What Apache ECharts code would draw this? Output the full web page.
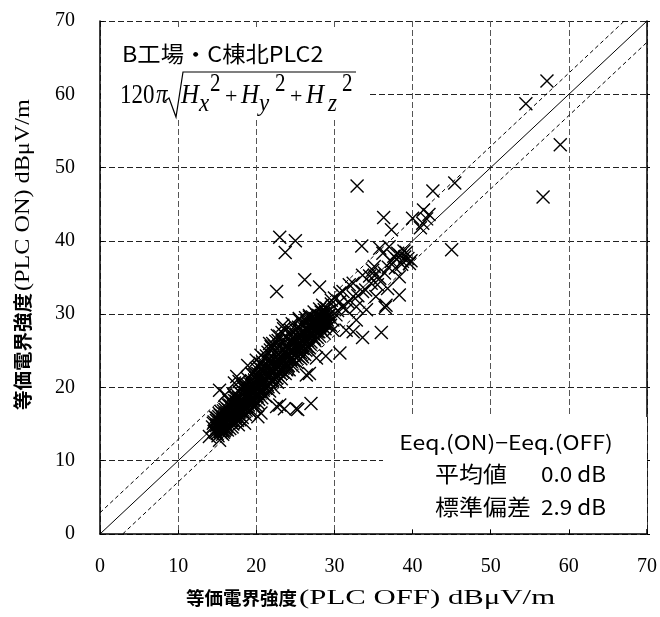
<!DOCTYPE html>
<html><head><meta charset="utf-8">
<script src="https://cdn.jsdelivr.net/npm/echarts@6/dist/echarts.min.js"></script>
<style>html,body{margin:0;padding:0;background:#fff}#c{width:660px;height:617px}</style>
</head><body><div id="c"></div>
<script>
// Measured points: [PLC OFF, PLC ON] in dBμV/m
const coreBand = [
[14.4,14.6],[14.6,15.3],[14.8,13.9],[14.9,14.8],[15.0,15.8],[15.1,13.4],[15.2,14.3],[15.3,16.4],[15.4,15.0],[15.5,13.8],
[15.6,14.6],[15.7,15.7],[15.8,16.8],[15.9,14.1],[16.0,15.2],[16.1,17.3],[16.2,14.7],[16.3,16.0],[16.4,15.5],[16.5,18.2],
[16.6,14.4],[16.7,16.6],[16.8,17.4],[16.9,15.1],[17.0,16.2],[17.1,19.0],[17.2,17.0],[17.3,15.8],[17.4,18.1],[17.5,16.6],
[17.6,17.7],[17.7,14.9],[17.8,19.4],[17.9,16.9],[18.0,18.3],[18.1,17.4],[18.2,15.9],[18.3,20.1],[18.4,18.8],[18.5,17.2],
[18.6,16.3],[18.7,19.5],[18.8,18.0],[18.9,21.2],[19.0,17.6],[19.1,19.1],[19.2,16.7],[19.3,20.4],[19.4,18.5],[19.5,21.8],
[19.6,19.8],[19.7,17.3],[19.8,20.9],[19.9,18.9],[20.0,22.6],[20.1,20.2],[20.2,17.9],[20.3,21.5],[20.4,19.4],[20.5,23.3],
[20.6,20.7],[20.7,18.6],[20.8,22.1],[20.9,19.9],[21.0,24.0],[21.1,21.2],[21.2,18.8],[21.3,22.7],[21.4,20.4],[21.5,24.8],
[21.6,21.8],[21.7,19.5],[21.8,23.3],[21.9,20.9],[22.0,25.4],[22.1,22.4],[22.2,20.0],[22.3,23.8],[22.4,21.5],[22.5,26.3],
[22.6,23.0],[22.7,20.7],[22.8,24.5],[22.9,22.1],[23.0,27.0],[23.1,23.5],[23.2,21.2],[23.3,25.1],[23.4,22.6],[23.5,28.0],
[23.6,24.1],[23.7,21.9],[23.8,25.7],[23.9,23.2],[24.0,26.6],[24.1,24.6],[24.2,22.4],[24.3,27.4],[24.4,23.8],[24.5,25.2],
[24.6,28.7],[24.7,22.9],[24.8,26.1],[24.9,24.4],[25.0,27.9],[25.1,25.5],[25.2,23.4],[25.3,26.8],[25.4,24.9],[25.5,29.2],
[25.6,26.1],[25.7,23.9],[25.8,27.5],[25.9,25.3],[26.0,28.6],[26.1,26.7],[26.2,24.5],[26.3,29.5],[26.4,27.9],[26.5,25.6],
[26.6,28.4],[26.7,26.9],[26.8,29.8],[26.9,28.1],[27.0,26.2],[27.1,29.0],[27.2,27.4],[27.3,28.7],[27.4,30.3],[27.5,27.8],
[27.6,29.3],[27.7,28.2],[27.8,26.8],[27.9,29.8],[28.0,28.6],[28.1,30.7],[28.2,29.1],[28.3,27.9],[28.4,29.6],[28.5,28.3],
[28.6,30.1],[28.7,29.0],[28.8,28.0],[28.9,29.4],[29.0,30.8],[29.2,28.7],[29.4,29.9],[29.6,31.4],
[14.7,14.1],[15.0,14.5],[15.3,15.5],[15.6,16.1],[15.9,15.6],[16.2,16.5],[16.5,15.8],[16.8,16.1],[17.1,17.5],[17.4,16.4],
[17.7,18.6],[18.0,17.1],[18.3,18.0],[18.6,19.3],[18.9,18.4],[19.2,19.6],[19.5,19.0],[19.8,19.4],[20.1,21.0],[20.4,20.5],
[20.7,21.6],[21.0,20.6],[21.3,21.9],[21.6,22.9],[21.9,22.0],[22.2,23.3],[22.5,22.4],[22.8,23.7],[23.1,24.3],[23.4,23.9],
[23.7,24.8],[24.0,25.3],[24.3,24.9],[24.6,25.8],[24.9,26.4],[25.2,25.9],[25.5,26.6],[25.8,26.9],[26.1,27.6],[26.4,26.8],
[26.7,27.7],[27.0,28.5],[27.3,27.3],[27.6,28.8],[27.9,28.9],[28.2,28.4],[28.5,29.5],[28.8,29.9],[29.1,29.2],
[15.4,14.0],[16.0,14.3],[16.7,15.3],[17.3,16.0],[17.9,16.2],[18.5,17.9],[19.1,18.1],[19.7,18.3],[20.3,19.1],[20.9,19.6],
[21.5,20.1],[22.1,20.8],[22.7,21.7],[23.3,22.2],[23.9,22.4],[24.5,23.5],[25.1,24.0],[25.7,24.7],[26.3,25.1],[26.9,25.9],
[27.5,26.4],[28.1,27.0],[28.7,27.4]
];
const coreFill = [
[14.5,15.1],[14.9,15.5],[15.1,14.9],[15.2,16.0],[15.5,14.4],[15.6,15.2],[15.8,13.9],[16.0,16.4],[16.1,15.0],[16.3,14.2],
[16.4,17.0],[16.6,16.3],[16.9,14.6],[17.0,17.8],[17.1,15.4],[17.3,18.6],[17.5,17.3],[17.6,15.5],[17.8,16.7],[17.9,18.0],
[18.1,19.1],[18.2,16.6],[18.4,17.6],[18.5,19.8],[18.7,16.9],[18.8,20.4],[19.0,18.7],[19.1,16.9],[19.3,17.8],[19.4,20.9],
[19.6,18.2],[19.7,20.3],[19.9,17.6],[20.0,19.8],[20.2,21.9],[20.3,18.4],[20.5,19.9],[20.6,22.5],[20.8,19.2],[20.9,21.1],
[21.1,22.9],[21.2,19.9],[21.4,21.4],[21.5,23.7],[21.7,20.7],[21.8,22.4],[22.0,24.2],[22.1,21.0],[22.3,22.6],[22.4,24.9],
[22.6,21.3],[22.7,23.4],[22.9,25.6],[23.0,22.4],[23.2,24.1],[23.3,26.3],[23.5,22.8],[23.6,25.2],[23.8,26.9],[23.9,24.0],
[24.1,23.0],[24.2,25.9],[24.4,27.8],[24.5,24.1],[24.7,26.7],[24.8,23.6],[25.0,25.1],[25.1,27.3],[25.3,24.3],[25.4,28.2],
[25.6,25.5],[25.7,27.0],[25.9,24.2],[26.0,26.3],[26.2,28.0],[26.3,26.0],[26.5,29.0],[26.6,27.1],[26.8,25.4],[26.9,27.4],
[27.1,28.1],[27.2,29.6],[27.4,26.7],[27.5,28.9],[27.7,29.9],[27.8,27.6],[28.0,29.8],[28.1,28.2],[28.3,30.3],[28.4,28.7],
[28.6,29.3],[28.7,30.6],[28.9,28.6],[29.0,29.6],[29.3,30.4],[29.5,28.5],
[14.6,14.0],[14.8,15.9],[15.0,13.7],[15.2,15.2],[15.5,16.7],[15.7,14.2],[16.0,17.0],[16.2,15.9],[16.6,17.6],[16.9,16.8],
[17.2,18.2],[17.6,18.9],[18.0,19.7],[18.4,20.4],[18.8,19.0],[19.3,19.9],[19.8,21.8],[20.3,22.8],[20.8,23.5],[21.3,24.3],
[21.8,25.1],[22.3,25.7],[22.8,26.4],[23.3,27.5]
];
const coreExtra = [
[15.1,15.6],[15.4,16.2],[15.7,13.6],[15.9,16.0],[16.1,14.5],[16.3,17.7],[16.5,16.9],[16.8,15.5],[17.0,15.0],[17.2,16.6],
[17.4,17.7],[17.7,17.3],[17.9,15.6],[18.1,18.4],[18.3,16.9],[18.6,18.6],[18.8,17.4],[19.0,19.9],[19.2,18.3],[19.5,17.9],
[19.7,19.4],[19.9,20.6],[20.1,18.8],[20.4,21.2],[20.6,19.6],[20.8,20.4],[21.0,22.3],[21.3,20.0],[21.5,21.5],[21.7,23.6],
[21.9,21.7],[22.2,22.0],[22.4,23.1],[22.6,24.3],[22.9,23.0],[23.1,21.9],[23.3,23.6],[23.6,23.0],[23.8,24.4],[24.0,22.9],
[24.2,24.2],[24.5,26.3],[24.7,25.0],[25.0,24.6],[25.2,26.5],[25.5,25.2],[25.7,26.4],[26.0,25.7],[26.2,27.3],[26.5,26.4],
[26.7,28.6],[27.0,27.2],[27.2,28.0],[27.5,29.4],[27.8,28.3],[28.0,27.6],[28.3,29.0],[28.6,28.8],[28.9,30.2],[29.2,29.8]
];
const bandEdges = [
[16.0,19.0],[17.2,20.6],[17.5,21.5],[18.9,23.0],[19.4,21.9],[20.0,23.7],[20.6,24.4],[21.7,26.0],[21.9,25.6],[22.7,27.1],
[23.4,28.5],[25.5,29.4],[26.8,29.6],[28.5,31.2],[15.3,19.6],[17.8,20.8],[22.1,26.0],
[14.0,13.3],[15.3,12.8],[17.5,15.6],[18.5,15.1],[20.2,16.0],[20.6,16.5],[22.6,17.4],[23.0,17.6],[23.6,17.1],[25.1,17.1],
[25.3,17.0],[27.0,17.8],[26.4,21.7],[26.8,21.9],[27.7,24.0],[28.9,24.3],[30.7,24.7]
];
const upperRange = [
[29.8,27.8],[31.5,27.8],[32.4,27.6],[33.6,26.8],[36.0,27.5],[32.8,29.2],[34.1,30.6],[35.3,32.4],[36.8,33.5],[38.3,35.1],
[39.6,36.9],[36.5,30.9],[36.6,31.2],[38.3,32.6],[30.0,32.2],[28.1,33.7],[26.2,34.7],[22.6,33.1],
[29.6,31.9],[31.1,33.1],[32.4,34.2],[33.6,35.3],[35.1,36.5],[36.2,38.3],[37.0,39.2],[30.7,31.7],[32.4,32.4],[33.6,33.1],
[32.8,31.0],[34.7,34.2],[35.8,34.9],[35.1,35.3],[31.5,30.6],[30.2,29.9],[29.8,29.2],[30.4,30.5],[31.0,31.0],[31.8,31.6],
[33.0,32.5],[34.0,33.3],[34.5,35.2],[35.5,34.0],[36.4,35.6],[36.9,36.4],[37.3,37.2],[37.8,36.3],[38.0,37.5],[38.4,38.0],
[38.7,37.2],[39.0,37.8],[39.2,38.4],[38.6,36.8],[39.4,37.6],[39.8,37.3],[38.9,38.6],[38.1,38.3],[37.6,37.9],
[31.9,34.0],[30.7,32.9],[34.9,36.0],
[41.3,42.4],[41.4,44.2],[41.8,43.0],[42.1,43.6],[41.0,41.8],[40.0,43.1],[36.3,43.2],[37.3,41.5],[33.5,39.3],[35.8,39.0],
[45.0,38.8],[42.6,46.8],[45.4,47.9],[32.9,47.5],[23.0,40.5],[25.0,40.0],[23.7,38.4],
[54.5,58.7],[57.2,61.8],[58.9,53.1],[56.7,46.0]
];
const axisRange = [0, 70];
const axisStep = 10;
const stdBand = 2.9;
const siteLabel = 'B工場・C棟北PLC2';
const diffLabel = 'Eeq.(ON)−Eeq.(OFF)';
const statNames = ['平均値', '標準偏差'];
const statValues = ['0.0 dB', '2.9 dB'];
const xTitleParts = ['等価電界強度', '(PLC OFF) dBμV/m'];
const yTitleParts = ['等価電界強度', '(PLC ON) dBμV/m'];

const points = coreBand.concat(coreFill, coreExtra, bandEdges, upperRange);
const lo = axisRange[0], hi = axisRange[1];

const CJK = '"Noto Sans CJK JP"';
const SERIF = '"Liberation Serif"';

function txt(text, x, y, opts) {
  const o = opts || {};
  return {type: 'text', x: x, y: y, z: 10, scaleX: o.sx || 1, scaleY: o.sy || 1, rotation: o.rot || 0,
    style: {text: text, fontFamily: o.family || CJK, fontSize: o.size || 20, fontStyle: o.italic ? 'italic' : 'normal',
      fontWeight: o.weight || 'normal', fill: '#000',
      align: o.align || 'left', verticalAlign: 'middle', textAlign: o.align || 'left', textVerticalAlign: 'middle'}};
}

const formula = [
  txt('120', 120, 96, {family: SERIF, size: 23, sy: 1.2}),
  txt('π', 156, 96, {family: SERIF, size: 23, sy: 1.2, italic: true}),
  txt('H', 181, 96, {family: SERIF, size: 25, sy: 1.1, italic: true}),
  txt('x', 199, 104, {family: SERIF, size: 23, sy: 1.1, italic: true}),
  txt('2', 210, 85, {family: SERIF, size: 21, sy: 1.15}),
  txt('+', 225, 97, {family: SERIF, size: 22}),
  txt('H', 241, 96, {family: SERIF, size: 25, sy: 1.1, italic: true}),
  txt('y', 259, 104, {family: SERIF, size: 23, sy: 1.1, italic: true}),
  txt('2', 275, 85, {family: SERIF, size: 21, sy: 1.15}),
  txt('+', 290, 97, {family: SERIF, size: 22}),
  txt('H', 306, 96, {family: SERIF, size: 25, sy: 1.1, italic: true}),
  txt('z', 328, 104, {family: SERIF, size: 23, sy: 1.1, italic: true}),
  txt('2', 342, 85, {family: SERIF, size: 21, sy: 1.15})
];

const chart = echarts.init(document.getElementById('c'), null, {renderer: 'canvas'});

const option = {
  animation: false,
  backgroundColor: '#fff',
  grid: {left: 100, right: 12, top: 21, bottom: 83, containLabel: false},
  xAxis: {
    type: 'value', min: lo, max: hi, interval: axisStep,
    axisLine: {show: true, onZero: false, lineStyle: {color: '#000', width: 1.5}},
    axisTick: {show: true, inside: true, length: 4, lineStyle: {color: '#000'}},
    axisLabel: {color: '#000', fontFamily: SERIF, fontSize: 20, margin: 23},
    splitLine: {show: true, lineStyle: {color: '#555', type: [6, 3], width: 1}}
  },
  yAxis: [{
    type: 'value', min: lo, max: hi, interval: axisStep,
    axisLine: {show: true, onZero: false, lineStyle: {color: '#000', width: 1.5}},
    axisTick: {show: true, inside: true, length: 4, lineStyle: {color: '#000'}},
    axisLabel: {color: '#000', fontFamily: SERIF, fontSize: 20, margin: 25},
    splitLine: {show: true, lineStyle: {color: '#222', type: [6, 3], width: 1}}
  }, {
    type: 'value', min: lo, max: hi, interval: axisStep, position: 'right',
    axisLine: {show: true, onZero: false, lineStyle: {color: '#000', width: 1.5}},
    axisTick: {show: true, inside: false, length: 3, lineStyle: {color: '#000'}},
    axisLabel: {show: false},
    splitLine: {show: false}
  }],
  series: [
    {
      type: 'scatter', data: points, symbol: 'path://M0,0L10,10M10,0L0,10', symbolSize: 13,
      itemStyle: {color: 'rgba(0,0,0,0)', borderColor: '#000', borderWidth: 1.4, opacity: 1},
      emphasis: {disabled: true}, z: 2
    },
    {type: 'line', data: [[lo, lo], [hi, hi]], showSymbol: false, symbol: 'none',
      lineStyle: {color: '#000', width: 1}, z: 3},
    {type: 'line', data: [[lo, lo + stdBand], [hi - stdBand, hi]], showSymbol: false, symbol: 'none',
      lineStyle: {color: '#000', width: 1, type: [4, 3]}, z: 3},
    {type: 'line', data: [[lo + stdBand, lo], [hi, hi - stdBand]], showSymbol: false, symbol: 'none',
      lineStyle: {color: '#000', width: 1, type: [4, 3]}, z: 3}
  ],
  graphic: {elements: [
    {type: 'rect', shape: {x: 101, y: 27, width: 267, height: 91}, style: {fill: '#fff'}, z: 5},
    {type: 'rect', shape: {x: 383, y: 417, width: 264, height: 112}, style: {fill: '#fff'}, z: 5},
    txt(siteLabel, 122, 54, {size: 22, sx: 1.06}),
    {type: 'polyline', z: 10, shape: {points: [[165, 101], [169, 98], [176, 117], [183, 72], [356, 72]]},
      style: {stroke: '#000', lineWidth: 1.2, fill: null}},
    ...formula,
    txt(diffLabel, 506, 442, {size: 20, sx: 1.15, align: 'center'}),
    txt(statNames[0], 435, 474, {size: 22, sx: 1.09}),
    txt(statValues[0], 606, 474, {size: 21, sx: 1.07, align: 'right'}),
    txt(statNames[1], 435, 507, {size: 22, sx: 1.09}),
    txt(statValues[1], 606, 507, {size: 21, sx: 1.07, align: 'right'}),
    txt(xTitleParts[0], 297, 598, {size: 18.5, weight: 'bold', align: 'right'}),
    txt(xTitleParts[1], 299, 598, {family: SERIF, size: 22, sx: 1.4}),
    txt(yTitleParts[0], 23, 410, {size: 19.5, weight: 'bold', rot: Math.PI / 2}),
    txt(yTitleParts[1], 23, 291, {family: SERIF, size: 22, sx: 1.1, rot: Math.PI / 2})
  ]}
};
chart.setOption(option);
</script>
</body></html>
